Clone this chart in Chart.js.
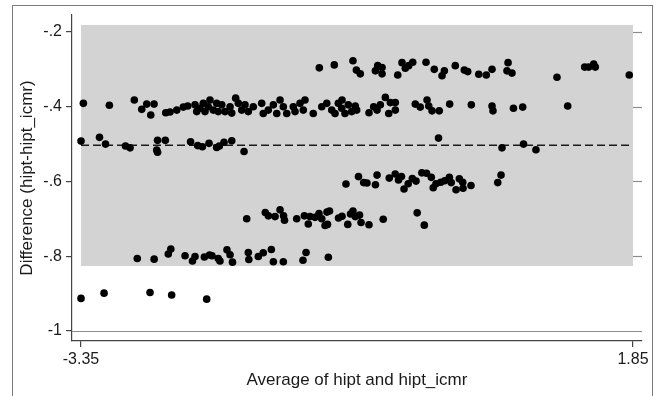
<!DOCTYPE html>
<html>
<head>
<meta charset="utf-8">
<script src="https://cdn.jsdelivr.net/npm/chart.js@4/dist/chart.umd.min.js"></script>
<style>
  html, body { margin: 0; padding: 0; background: #fff; }
  #wrap { width: 657px; height: 396px; }
</style>
</head>
<body>
<div id="wrap"><canvas id="chart" width="657" height="396"></canvas></div>
<script>
// [average, difference] pairs, grouped by the horizontal bands seen in the plot
const band30 = [
  [-1.105,-0.296],[-0.964,-0.288],[-0.788,-0.277],[-0.756,-0.302],[-0.719,-0.312],[-0.577,-0.304],
  [-0.555,-0.290],[-0.514,-0.295],[-0.514,-0.312],[-0.366,-0.315],[-0.326,-0.282],[-0.295,-0.297],
  [-0.263,-0.290],[-0.225,-0.281],[-0.100,-0.281],[-0.022,-0.300],[0.051,-0.317],[0.073,-0.304],
  [0.176,-0.290],[0.261,-0.302],[0.293,-0.306],[0.397,-0.313],[0.468,-0.315],[0.522,-0.300],
  [0.673,-0.282],[0.663,-0.304],[0.710,-0.310],[1.134,-0.321],[1.395,-0.294],[1.433,-0.294],
  [1.480,-0.286],[1.495,-0.294],[1.815,-0.315]
];
const band40 = [
  [-3.328,-0.391],[-3.083,-0.396],[-2.848,-0.382],[-2.778,-0.407],[-2.731,-0.393],[-2.662,-0.393],
  [-2.693,-0.422],[-2.552,-0.416],[-2.512,-0.414],[-2.448,-0.409],[-2.386,-0.401],[-2.345,-0.398],
  [-2.276,-0.395],[-2.260,-0.413],[-2.229,-0.404],[-2.198,-0.391],[-2.182,-0.413],[-2.151,-0.400],
  [-2.135,-0.382],[-2.104,-0.409],[-2.072,-0.391],[-2.057,-0.413],[-2.024,-0.395],[-1.993,-0.413],
  [-1.946,-0.400],[-1.930,-0.417],[-1.893,-0.377],[-1.868,-0.391],[-1.836,-0.409],[-1.805,-0.395],
  [-1.774,-0.413],[-1.727,-0.400],[-1.648,-0.391],[-1.633,-0.418],[-1.586,-0.409],[-1.538,-0.395],
  [-1.506,-0.418],[-1.475,-0.382],[-1.444,-0.400],[-1.412,-0.418],[-1.350,-0.400],[-1.334,-0.413],
  [-1.287,-0.391],[-1.256,-0.409],[-1.240,-0.382],[-1.162,-0.418],[-1.082,-0.400],[-1.035,-0.391],
  [-0.988,-0.409],[-0.957,-0.418],[-0.926,-0.391],[-0.894,-0.404],[-0.863,-0.418],[-0.832,-0.395],
  [-0.800,-0.413],[-0.891,-0.382],[-0.766,-0.398],[-0.753,-0.409],[-0.637,-0.416],[-0.593,-0.400],
  [-0.561,-0.409],[-0.530,-0.395],[-0.483,-0.375],[-0.451,-0.418],[-0.436,-0.389],[-0.389,-0.409],
  [-0.389,-0.389],[-0.201,-0.393],[-0.154,-0.401],[-0.090,-0.382],[-0.074,-0.398],[-0.043,-0.411],
  [0.025,-0.411],[0.123,-0.393],[0.327,-0.395],[0.522,-0.398],[0.531,-0.411],[0.724,-0.404],
  [0.811,-0.401],[1.235,-0.398]
];
const band50 = [
  [-3.350,-0.492],[-3.176,-0.482],[-3.119,-0.500],[-2.931,-0.505],[-2.888,-0.510],[-2.629,-0.490],
  [-2.556,-0.490],[-2.637,-0.516],[-2.629,-0.522],[-2.318,-0.494],[-2.251,-0.504],[-2.207,-0.507],
  [-2.144,-0.498],[-2.072,-0.509],[-2.047,-0.505],[-2.003,-0.495],[-1.930,-0.491],[-1.814,-0.520],
  [0.018,-0.484],[0.616,-0.510],[0.819,-0.500],[0.936,-0.515]
];
const band60 = [
  [-0.854,-0.607],[-0.736,-0.587],[-0.687,-0.603],[-0.656,-0.604],[-0.576,-0.609],[-0.561,-0.583],
  [-0.446,-0.591],[-0.390,-0.580],[-0.359,-0.596],[-0.331,-0.587],[-0.307,-0.620],[-0.268,-0.606],
  [-0.229,-0.592],[-0.194,-0.599],[-0.139,-0.577],[-0.095,-0.578],[-0.050,-0.589],[-0.032,-0.617],
  [-0.006,-0.606],[0.039,-0.602],[0.076,-0.598],[0.120,-0.589],[0.138,-0.603],[0.183,-0.622],
  [0.214,-0.593],[0.246,-0.602],[0.249,-0.618],[0.324,-0.611],[0.576,-0.603],[0.607,-0.583]
];
const band70 = [
  [-1.789,-0.700],[-1.614,-0.683],[-1.585,-0.692],[-1.522,-0.694],[-1.475,-0.676],[-1.442,-0.692],
  [-1.433,-0.704],[-1.318,-0.700],[-1.246,-0.692],[-1.209,-0.714],[-1.193,-0.694],[-1.146,-0.696],
  [-1.108,-0.686],[-1.082,-0.700],[-1.051,-0.718],[-1.033,-0.682],[-1.009,-0.679],[-1.028,-0.715],
  [-0.924,-0.698],[-0.891,-0.693],[-0.837,-0.715],[-0.811,-0.687],[-0.788,-0.679],[-0.766,-0.694],
  [-0.726,-0.690],[-0.712,-0.710],[-0.637,-0.716],[-0.503,-0.701],[-0.183,-0.684],[-0.116,-0.717]
];
const band80 = [
  [-2.820,-0.806],[-2.661,-0.808],[-2.528,-0.794],[-2.504,-0.781],[-2.370,-0.799],[-2.300,-0.813],
  [-2.276,-0.801],[-2.188,-0.802],[-2.139,-0.797],[-2.116,-0.799],[-2.057,-0.806],[-2.041,-0.813],
  [-1.975,-0.783],[-1.946,-0.796],[-1.923,-0.816],[-1.774,-0.790],[-1.769,-0.809],[-1.680,-0.801],
  [-1.633,-0.791],[-1.557,-0.782],[-1.538,-0.815],[-1.444,-0.815],[-1.259,-0.811],[-1.230,-0.790],
  [-1.020,-0.803]
];
const band90 = [
  [-3.350,-0.913],[-3.133,-0.899],[-2.700,-0.897],[-2.496,-0.904],[-2.166,-0.915]
];

// mean difference and limits of agreement
const meanDiff = -0.503;
const upperLimit = -0.181;
const lowerLimit = -0.826;

const xTickVals = [-3.35, 1.85];
const xTickLabels = ['-3.35', '1.85'];
const yTickVals = [-1, -0.8, -0.6, -0.4, -0.2];
const yTickLabels = ['-1', '-.8', '-.6', '-.4', '-.2'];

const xTitle = 'Average of hipt and hipt_icmr';
const yTitle = 'Difference (hipt-hipt_icmr)';

const allPoints = [].concat(band30, band40, band50, band60, band70, band80, band90)
  .map(p => ({ x: p[0], y: p[1] }));
const xFirst = xTickVals[0];
const xLast = xTickVals[xTickVals.length - 1];

const FONT = '"Liberation Sans", Arial, Helvetica, sans-serif';

// frame, the line at -1 and the small ticks on the right side
const extras = {
  id: 'extras',
  beforeDraw(chart) {
    const ctx = chart.ctx;
    ctx.save();
    ctx.fillStyle = '#fff';
    ctx.fillRect(0, 0, chart.width, chart.height);
    ctx.strokeStyle = '#7a7a7a';
    ctx.lineWidth = 1;
    ctx.strokeRect(12.5, 5.5, 640, 420);
    ctx.restore();
  },
  afterDatasetsDraw(chart) {
    const { ctx, chartArea, scales } = chart;
    const xr = scales.x.getPixelForValue(xLast);
    ctx.save();
    ctx.strokeStyle = '#8c8c8c';
    ctx.lineWidth = 1.2;
    yTickVals.forEach(v => {
      const py = Math.round(scales.y.getPixelForValue(v)) + 0.5;
      ctx.beginPath();
      if (v === yTickVals[0]) {
        ctx.moveTo(chartArea.left, py);
      } else {
        ctx.moveTo(xr, py);
      }
      ctx.lineTo(chartArea.right, py);
      ctx.stroke();
    });
    ctx.restore();
  }
};

new Chart(document.getElementById('chart'), {
  type: 'scatter',
  data: {
    datasets: [
      {
        data: allPoints,
        pointRadius: 3.8,
        pointBackgroundColor: '#000',
        pointBorderWidth: 0,
        showLine: false
      },
      {
        data: [{ x: xFirst, y: meanDiff }, { x: xLast, y: meanDiff }],
        showLine: true,
        borderColor: '#1a1a1a',
        borderWidth: 1.6,
        borderDash: [8, 4],
        pointRadius: 0,
        fill: false
      },
      {
        data: [{ x: xFirst, y: upperLimit }, { x: xLast, y: upperLimit }],
        showLine: true,
        borderWidth: 0,
        borderColor: 'rgba(0,0,0,0)',
        backgroundColor: '#d3d3d3',
        pointRadius: 0,
        fill: { value: lowerLimit }
      }
    ]
  },
  options: {
    responsive: false,
    animation: false,
    layout: { padding: { top: 15, right: 15, left: 0, bottom: 0 } },
    plugins: {
      legend: { display: false },
      tooltip: { enabled: false }
    },
    scales: {
      x: {
        type: 'linear',
        min: -3.435,
        max: 1.935,
        afterFit(s) { s.height = 55; },
        afterBuildTicks(s) { s.ticks = xTickVals.map(v => ({ value: v })); },
        ticks: {
          padding: 3,
          color: '#1a1a1a',
          font: { family: FONT, size: 16 },
          maxRotation: 0,
          callback: (v, i) => xTickLabels[i]
        },
        grid: { display: true, drawOnChartArea: false, tickLength: 6, color: '#444', lineWidth: 1.2 },
        border: { display: true, color: '#444', width: 1.2 },
        title: {
          display: true,
          text: xTitle,
          color: '#1a1a1a',
          font: { family: FONT, size: 17 },
          padding: { top: 0, bottom: 5 }
        }
      },
      y: {
        type: 'linear',
        min: -1.027,
        max: -0.1545,
        afterFit(s) { s.width = 72; },
        afterBuildTicks(s) { s.ticks = yTickVals.map(v => ({ value: v })); },
        ticks: {
          padding: 4,
          color: '#1a1a1a',
          font: { family: FONT, size: 16 },
          callback: (v, i) => yTickLabels[i]
        },
        grid: { display: true, drawOnChartArea: false, tickLength: 6, color: '#444', lineWidth: 1.2 },
        border: { display: true, color: '#444', width: 1.2 },
        title: {
          display: true,
          text: yTitle,
          color: '#1a1a1a',
          font: { family: FONT, size: 17 },
          padding: { top: 17, bottom: 0 }
        }
      }
    }
  },
  plugins: [extras]
});
</script>
</body>
</html>
